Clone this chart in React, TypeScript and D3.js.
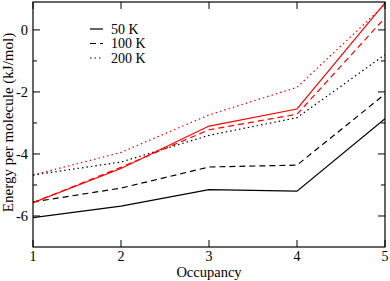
import React from "react";
import { scaleLinear, line, range } from "d3";

// occupancy on x, energy per molecule on y
const occupancy = [1, 2, 3, 4, 5];

const black50 = [-6.05, -5.68, -5.15, -5.2, -2.86];
const black100 = [-5.55, -5.1, -4.42, -4.36, -2.07];
const black200 = [-4.68, -4.26, -3.4, -2.83, -0.8];

const red50 = [-5.57, -4.47, -3.1, -2.55, 0.87];
const red100 = [-5.57, -4.43, -3.22, -2.72, 0.39];
const red200 = [-4.68, -3.95, -2.74, -1.85, 0.82];

const xTicks = [1, 2, 3, 4, 5];
const yTicks = [0, -2, -4, -6];
const yMinor = [-1, -3, -5];

const legendItems = [
  { label: "50 K", dash: "none" },
  { label: "100 K", dash: "6,4" },
  { label: "200 K", dash: "1.5,3" },
];

export default function App() {
  const width = 390;
  const height = 281;
  const left = 33;
  const right = 385;
  const top = 2;
  const bottom = 247;

  const x = scaleLinear().domain([1, 5]).range([left, right]);
  const y = scaleLinear().domain([-7, 0.9]).range([bottom, top]);

  const path = line<number>()
    .x((_, i) => x(occupancy[i]))
    .y((d) => y(d));

  const series = [
    { values: black50, color: "#000", dash: "none" },
    { values: black100, color: "#000", dash: "6,4" },
    { values: black200, color: "#000", dash: "1.5,3" },
    { values: red50, color: "#ff0000", dash: "none" },
    { values: red100, color: "#ff0000", dash: "6,4" },
    { values: red200, color: "#ff0000", dash: "1.5,3" },
  ];

  const font = "'Liberation Serif', 'Times New Roman', serif";

  return (
    <svg
      width={width}
      height={height}
      style={{ position: "absolute", left: 0, top: 0, background: "#fff" }}
      fontFamily={font}
    >
      <defs>
        <clipPath id="plot">
          <rect x={left} y={top} width={right - left} height={bottom - top} />
        </clipPath>
      </defs>

      <g clipPath="url(#plot)">
        {series.map((s, i) => (
          <path
            key={i}
            d={path(s.values) || ""}
            fill="none"
            stroke={s.color}
            strokeWidth={1.2}
            strokeDasharray={s.dash}
          />
        ))}
      </g>

      {/* frame */}
      <rect
        x={left}
        y={top}
        width={right - left}
        height={bottom - top}
        fill="none"
        stroke="#000"
        strokeWidth={1.2}
      />

      {/* x ticks, bottom and top */}
      {xTicks.map((t) => (
        <g key={`x${t}`}>
          <line x1={x(t)} x2={x(t)} y1={bottom} y2={bottom - 7} stroke="#000" />
          <line x1={x(t)} x2={x(t)} y1={top} y2={top + 7} stroke="#000" />
          <text x={x(t)} y={bottom + 13.5} textAnchor="middle" fontSize={14}>
            {t}
          </text>
        </g>
      ))}

      {/* y ticks, left and right */}
      {yTicks.map((t) => (
        <g key={`y${t}`}>
          <line x1={left} x2={left + 7} y1={y(t)} y2={y(t)} stroke="#000" />
          <line x1={right} x2={right - 7} y1={y(t)} y2={y(t)} stroke="#000" />
          <text x={left - 5} y={y(t) + 5} textAnchor="end" fontSize={14.5}>
            {t < 0 ? `-${Math.abs(t)}` : t}
          </text>
        </g>
      ))}
      {yMinor.map((t) => (
        <g key={`ym${t}`}>
          <line x1={left} x2={left + 4} y1={y(t)} y2={y(t)} stroke="#000" />
          <line x1={right} x2={right - 4} y1={y(t)} y2={y(t)} stroke="#000" />
        </g>
      ))}

      <text x={(left + right) / 2} y={277} textAnchor="middle" fontSize={14.5}>
        Occupancy
      </text>
      <text
        transform={`translate(13, ${(top + bottom) / 2 - 2}) rotate(-90)`}
        textAnchor="middle"
        fontSize={15}
      >
        Energy per molecule (kJ/mol)
      </text>

      {/* legend */}
      {range(legendItems.length).map((i) => {
        const item = legendItems[i];
        const ly = 29 + i * 14.5;
        return (
          <g key={item.label}>
            <line
              x1={90}
              x2={103}
              y1={ly}
              y2={ly}
              stroke="#000"
              strokeWidth={1.2}
              strokeDasharray={item.dash}
            />
            <text x={111} y={ly + 4.5} fontSize={14}>
              {item.label}
            </text>
          </g>
        );
      })}
    </svg>
  );
}
